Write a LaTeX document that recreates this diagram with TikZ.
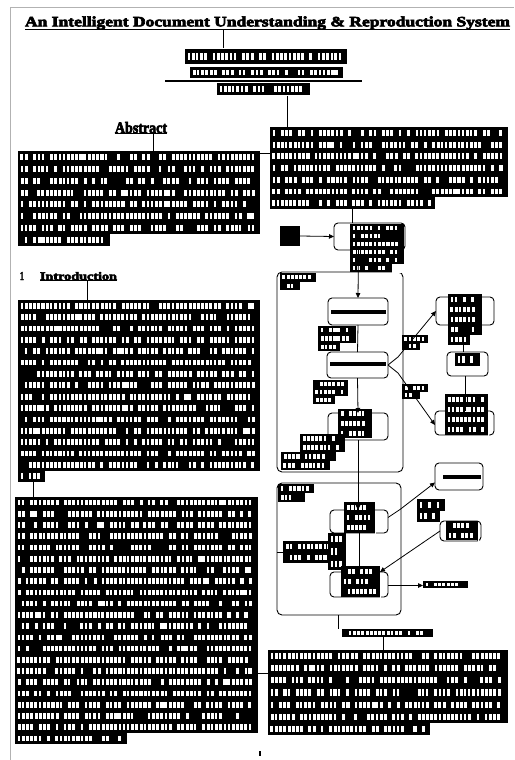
\documentclass[tikz,border=0pt]{standalone}
\usepackage{fontspec}
\usepackage{graphicx}
\usetikzlibrary{arrows.meta,calc}
\newfontfamily\heavyfont[FakeBold=4, BoldFeatures={FakeBold=4}]{Liberation Serif}

\tikzset{
  blk/.style={rectangle, fill=black, inner sep=0pt, outer sep=0pt, anchor=north west},
  rbox/.style={rectangle, draw=black, line width=0.9pt, rounded corners=4pt,
               inner sep=0pt, outer sep=0pt, anchor=north west, fill=white},
  frm/.style={rectangle, draw=black, line width=0.9pt, rounded corners=5pt,
              inner sep=0pt, outer sep=0pt, anchor=north west},
  ghost/.style={rectangle, inner sep=0pt, outer sep=0pt, anchor=north west},
  link/.style={draw=black, line width=0.8pt},
  arr/.style={link, -{Triangle[length=5pt,width=4.5pt]}},
  head/.style={inner sep=0pt, outer sep=0pt},
}

% a paragraph of dense, ink-heavy type: black block with letter counters
% #1 name, #2 x0, #3 y0, #4 x1, #5 y1, #6 end of the last line, #7 lines
\newcommand\txtblock[7]{%
  \node[blk, minimum width={(#4-#2)*1pt}, minimum height={(#5-#3)*1pt}] (#1) at (#2,#3) {};
  \pgfmathsetmacro\tbpitch{(#5-#3)/#7}%
  \foreach \tbr in {1,...,#7}{%
    \pgfmathsetmacro\tbya{#3+(\tbr-1)*\tbpitch+0.25*\tbpitch}%
    \pgfmathsetmacro\tbh{0.5*\tbpitch}%
    \ifnum\tbr=#7\relax \def\tbxe{#6}\else\def\tbxe{#4}\fi
    \pgfmathtruncatemacro\tbn{max(1,(\tbxe-#2-5)/4.2)}%
    \foreach \tbj in {1,...,\tbn}{%
      \pgfmathtruncatemacro\tbon{rnd<0.8}%
      \ifnum\tbon=1\relax
        \pgfmathsetmacro\tbxa{#2+\tbj*4.2-1.8+0.5*rnd}%
        \pgfmathsetmacro\tbw{2.4+0.8*rnd}%
        \fill[white] (\tbxa,\tbya) rectangle ++(\tbw,\tbh);
      \fi
    }%
  }%
  \fill[white] (#6,#5-\tbpitch) rectangle (#4+0.5,#5+0.5);
}

% rounded box / frame: #1 style, #2 name, #3 x0, #4 y0, #5 x1, #6 y1
\newcommand\boxat[6]{%
  \node[#1, minimum width={(#5-#3)*1pt}, minimum height={(#6-#4)*1pt}] (#2) at (#3,#4) {};
}

\begin{document}
\begin{tikzpicture}[x=1pt,y=-1pt]
\pgfmathsetseed{4242}
\useasboundingbox (0,0) rectangle (514,760);
\fill[white] (0,0) rectangle (514,760);

% page edge
\draw[gray!60, line width=1pt] (10,760) -- (10,8) -- (514,8);

% ---------- title and authors ----------
\node[head, anchor=west] (title) at (25,23)
  {\resizebox{485pt}{10pt}{\heavyfont\bfseries An Intelligent Document Understanding \& Reproduction System}};
\draw[line width=1.3pt] (title.south west) -- (title.south east);

\boxat{ghost}{auth}{165}{48}{362}{96}
\txtblock{a1}{185}{49}{347}{64}{347}{1}
\txtblock{a2}{190}{67}{343}{78}{343}{1}
\txtblock{a3}{217}{83}{310}{95}{310}{1}
\draw[line width=1.1pt] ([yshift=-33pt]auth.north west) -- ([yshift=-33pt]auth.north east);
\draw[link] ([xshift=-40pt]auth.north |- title.south) -- ([xshift=-40pt]auth.north);

% ---------- left column ----------
\node[head, anchor=north west] (absh) at (115,122)
  {\resizebox{52pt}{11pt}{\heavyfont\bfseries Abstract}};
\draw[line width=1.2pt] (absh.south west) -- (absh.south east);
\txtblock{abs}{18}{151}{260}{246}{110}{8}
\draw[link] ([xshift=12pt]absh.south) -- ([xshift=12pt]absh.south |- abs.north);

\node[head, anchor=north west] (introno) at (20,272)
  {\resizebox{4pt}{8pt}{\heavyfont\bfseries 1}};
\node[head, anchor=north west] (introh) at (40,272)
  {\resizebox{77pt}{8pt}{\heavyfont\bfseries Introduction}};
\draw[line width=1.2pt] (introh.south west) -- (introh.south east);
\txtblock{intro}{18}{300}{260}{482}{45}{16}
\draw[link] ([xshift=9pt]introh.south) -- ([xshift=9pt]introh.south |- intro.north);

\txtblock{body}{15}{497}{258}{744}{127}{22}
\draw[link] ([xshift=15pt]intro.south west) -- ([xshift=15pt]intro.south west |- body.north);

\fill (259,751) rectangle (261,756);

% ---------- right column, upper text ----------
\txtblock{right}{270}{127}{508}{209}{435}{7}
\draw[link] ([yshift=-2pt]abs.north east) -- ([yshift=-2pt]abs.north east -| right.west);
\draw[link] ([xshift=24pt]auth.south) -- ([xshift=24pt]auth.south |- right.north);

% ---------- flow chart ----------
\boxat{frm}{F1}{277}{272}{403}{472}
\boxat{frm}{F2}{277}{483}{401}{615}

\node[blk, minimum width=20pt, minimum height=20pt] (s1) at (280,226) {};
\boxat{rbox}{n1}{334}{223}{405}{250}
\txtblock{n1t}{350}{224}{404}{272}{392}{6}

\txtblock{L1}{280}{273}{316}{290}{300}{2}

\boxat{rbox}{A}{328}{298}{388}{325}
\fill (331,310) rectangle (386,314);
\txtblock{bA}{318}{326}{356}{351}{340}{3}

\boxat{rbox}{B}{327}{352}{388}{378}
\fill (330,362) rectangle (386,366);
\txtblock{bB}{313}{380}{348}{404}{335}{3}

\boxat{rbox}{C}{328}{413}{388}{440}
\txtblock{Ct}{338}{409}{372}{438}{372}{3}
\txtblock{bC1}{300}{434}{345}{452}{345}{2}
\txtblock{bC2}{281}{452}{336}{470}{330}{2}

\boxat{rbox}{R1}{436}{297}{494}{325}
\txtblock{R1t}{448}{294}{482}{345}{470}{5}
\boxat{rbox}{R2}{447}{352}{488}{376}
\txtblock{R2t}{455}{353}{480}{366}{480}{1}
\boxat{rbox}{R3}{435}{411}{494}{435}
\txtblock{R3t}{445}{394}{488}{435}{488}{4}
\txtblock{lb1}{402}{335}{428}{350}{420}{2}
\txtblock{lb2}{402}{384}{428}{399}{420}{2}

\txtblock{L2}{278}{484}{314}{502}{305}{2}
\boxat{rbox}{D}{330}{510}{388}{533}
\txtblock{Dt}{344}{502}{375}{533}{375}{3}
\txtblock{bF}{283}{541}{345}{563}{345}{2}
\txtblock{bF2}{328}{533}{346}{570}{346}{3}
\boxat{rbox}{E}{330}{572}{388}{597}
\txtblock{Et}{341}{566}{380}{597}{380}{3}

\boxat{rbox}{R4}{435}{463}{483}{490}
\fill (443,475) rectangle (481,479);
\txtblock{lbD}{417}{499}{445}{522}{440}{2}
\boxat{rbox}{R5}{440}{521}{481}{541}
\txtblock{R5t}{446}{521}{478}{540}{478}{2}
\txtblock{out}{423}{581}{468}{588}{468}{1}

\txtblock{caph}{342}{629}{433}{637}{433}{1}
\txtblock{bottom}{268}{650}{508}{735}{430}{7}

% connectors of the flow chart
\draw[link] ([xshift=82pt]right.south west) -- ([xshift=82pt]right.south west |- n1.north);
\draw[arr] (s1.east) -- (n1.west);
\draw[arr] ([xshift=-11pt]n1.south) -- (A.north);
\draw[link] (A.south) -- (B.north);
\draw[arr] (B.south) -- (C.north);
\draw[arr] (C.south) -- ([xshift=-1pt]D.north);
\draw[arr] (D.south) -- (E.north);
\draw[arr] (B.east) -- ++(10,-8) -- (R1.west);
\draw[arr] (B.east) -- ++(10,8) -- ([yshift=-2pt]R3.west);
\draw[link] ([xshift=-2pt]R1.south) -- ([xshift=-2pt]R1.south |- R2.north);
\draw[link] ([xshift=-2pt]R2.south) -- ([xshift=-2pt]R2.south |- R3.north);
\draw[arr] ([yshift=4pt]D.east) -- ++(12,-8) -- ([yshift=-6pt]R4.west);
\draw[arr] (R5.west) -- ([xshift=-8pt]E.north east);
\draw[arr] ([yshift=-1pt]E.east) -- ([yshift=-1pt]E.east -| out.west);
\draw[link] (bF.west) -- (bF.west -| F2.west);
\draw[link] ([xshift=-1pt]F2.south) -- ([xshift=-1pt]F2.south |- caph.north);
\draw[link] ([xshift=-4pt]caph.south) -- ([xshift=-4pt]caph.south |- bottom.north);
\draw[link] ([yshift=-23pt]body.north east |- bottom.north west) -- ([yshift=-23pt]bottom.north west);
\end{tikzpicture}
\end{document}
